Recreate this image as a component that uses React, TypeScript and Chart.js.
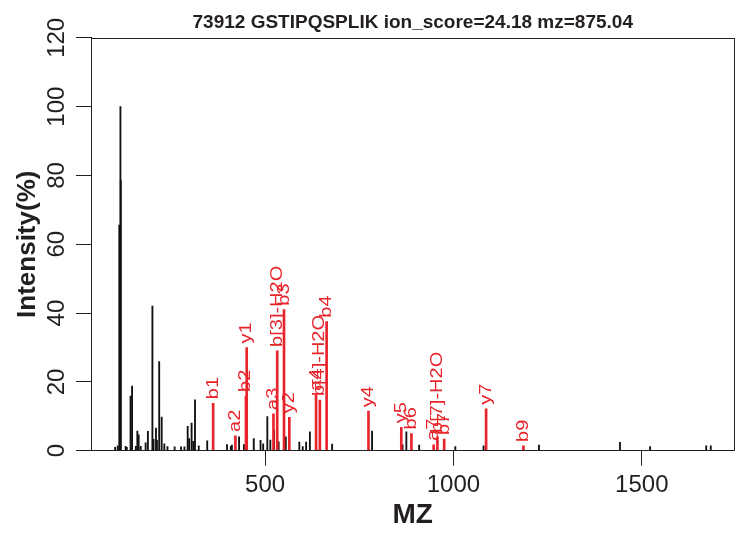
import React, { useEffect, useRef } from "react";
import { Chart, registerables } from "chart.js";

Chart.register(...registerables);

const titleText = "73912 GSTIPQSPLIK ion_score=24.18 mz=875.04";
const xTitle = "MZ";
const yTitle = "Intensity(%)";
const xTickValues = [500, 1000, 1500];
const yTickValues = [0, 20, 40, 60, 80, 100, 120];
const xRange = [38, 1746];
const yRange = [0, 120];

// unmatched peaks (black)
const peakMz = [
  102, 109, 113.1, 116.1, 117.1, 130, 133, 143, 147, 157, 161, 164.5, 170, 183, 189,
  201, 204, 210.5, 213, 219, 225.6, 232.6, 241, 260, 277, 286, 294.6, 298.5, 305,
  309.5, 314, 324, 346.5, 399, 409, 412, 431, 444, 470, 488, 495, 506, 514, 524, 536,
  555, 591, 600, 609, 619, 678, 784, 865, 875, 909, 1005, 1080, 1227, 1442, 1522,
  1671, 1683,
];
const peakIntensity = [
  1.0, 1.4, 65.6, 100, 78.6, 1.3, 1.0, 15.9, 18.8, 1.3, 5.7, 4.6, 1.3, 2.3, 5.6,
  42, 3.3, 6.6, 3.0, 25.9, 9.8, 2.0, 1.2, 1.1, 1.1, 1.1, 7.1, 3.5, 8.0,
  2.7, 14.8, 1.4, 2.9, 1.8, 1.3, 1.6, 4.0, 1.8, 3.5, 3.0, 2.0, 9.9, 3.1, 6.0, 2.6,
  4.0, 2.5, 1.2, 2.5, 5.5, 1.9, 5.7, 1.7, 5.5, 1.6, 1.2, 1.4, 1.6, 2.4, 1.2,
  1.4, 1.4,
];

// matched fragment ions (red, labelled)
const ionLabels = [
  "b1", "a2", "b2", "y1", "a3", "b[3]-H2O", "b3", "y2", "a4", "b[4]-H2O", "b4",
  "y4", "y5", "b6", "a7", "b[7]-H2O", "b7", "y7", "b9",
];
const ionMz = [
  362.2, 421.3, 449.3, 451.3, 522.3, 532.3, 550.3, 564.4, 635.4, 645.4, 663.4,
  774.5, 861.6, 888.5, 947.5, 957.5, 975.5, 1086.7, 1185.7,
];
const ionIntensity = [
  13.8, 4.3, 15.9, 30, 10.7, 29, 41, 9.7, 16.2, 14.7, 37.5,
  11.5, 6.8, 5.0, 1.7, 4.0, 3.4, 12.2, 1.4,
];

const FONT = "'Liberation Sans', Arial, Helvetica, sans-serif";
const INK = "#231f20";
const RED = "#e8242b";

const boxPlugin = {
  id: "rbox",
  afterDatasetsDraw(chart: any) {
    const { ctx, chartArea } = chart;
    ctx.save();
    ctx.strokeStyle = INK;
    ctx.lineWidth = 1;
    const l = Math.round(chartArea.left) + 0.5;
    const t = Math.round(chartArea.top) + 0.5;
    const r = Math.round(chartArea.right) - 0.5;
    const b = Math.round(chartArea.bottom) - 0.5;
    ctx.strokeRect(l, t, r - l, b - t);
    ctx.restore();
  },
};

const ionLabelPlugin = {
  id: "ionLabels",
  afterDatasetsDraw(chart: any) {
    const { ctx } = chart;
    const xs = chart.scales.x;
    const ys = chart.scales.y;
    ctx.save();
    ctx.fillStyle = RED;
    ctx.font = `20px ${FONT}`;
    ctx.textAlign = "left";
    ctx.textBaseline = "middle";
    ionLabels.forEach((lab, i) => {
      const x = xs.getPixelForValue(ionMz[i]);
      const y = ys.getPixelForValue(ionIntensity[i]);
      ctx.save();
      ctx.translate(x, y - 4);
      ctx.rotate(-Math.PI / 2);
      ctx.scale(1, 0.82);
      ctx.fillText(lab, 0, 0);
      ctx.restore();
    });
    ctx.restore();
  },
};

export default function App() {
  const ref = useRef<HTMLCanvasElement | null>(null);

  useEffect(() => {
    if (!ref.current) return;
    Chart.defaults.font.family = FONT;
    const chart = new Chart(ref.current, {
      type: "bar",
      data: {
        datasets: [
          {
            label: "peaks",
            data: peakMz.map((x, i) => ({ x, y: peakIntensity[i] })),
            backgroundColor: "#111111",
            borderWidth: 0,
            barThickness: 1.2,
            grouped: false,
            order: 2,
          } as any,
          {
            label: "matched",
            data: ionMz.map((x, i) => ({ x, y: ionIntensity[i] })),
            backgroundColor: RED,
            borderWidth: 0,
            barThickness: 2,
            grouped: false,
            order: 1,
          } as any,
        ],
      },
      options: {
        animation: false,
        responsive: false,
        devicePixelRatio: 1,
        events: [],
        layout: { padding: { left: 0, right: 6.5, top: 0, bottom: 0 } },
        plugins: {
          legend: { display: false },
          tooltip: { enabled: false },
          title: {
            display: true,
            text: titleText,
            fullSize: false,
            color: INK,
            font: { size: 19, weight: "bold", family: FONT },
            padding: { top: 11, bottom: 4 },
          },
        },
        scales: {
          x: {
            type: "linear",
            min: xRange[0],
            max: xRange[1],
            offset: false,
            afterBuildTicks: (s: any) => {
              s.ticks = xTickValues.map((v) => ({ value: v }));
            },
            afterFit: (s: any) => {
              s.height = 89.3;
            },
            grid: { offset: false, drawOnChartArea: false, drawTicks: true, tickLength: 15, color: INK, lineWidth: 1 },
            border: { display: true, color: INK, width: 1 },
            ticks: {
              autoSkip: false,
              maxRotation: 0,
              padding: 5,
              color: INK,
              font: { size: 24, family: FONT },
              callback: (v: any) => String(v),
            },
            title: {
              display: true,
              text: xTitle,
              color: INK,
              font: { size: 28, weight: "bold", family: FONT },
              padding: { top: 0, bottom: 8 },
            },
          },
          y: {
            type: "linear",
            min: yRange[0],
            max: yRange[1],
            afterBuildTicks: (s: any) => {
              s.ticks = yTickValues.map((v) => ({ value: v }));
            },
            afterFit: (s: any) => {
              s.width = 91;
            },
            grid: { offset: false, drawOnChartArea: false, drawTicks: true, tickLength: 15, color: INK, lineWidth: 1 },
            border: { display: true, color: INK, width: 1 },
            ticks: {
              autoSkip: false,
              minRotation: 90,
              maxRotation: 90,
              crossAlign: "center",
              padding: -1.5,
              color: INK,
              font: { size: 24, family: FONT },
              callback: (v: any) => String(v),
            },
            title: {
              display: true,
              text: yTitle,
              color: INK,
              font: { size: 26, weight: "bold", family: FONT },
              padding: { top: 12, bottom: 0 },
            },
          },
        },
      } as any,
      plugins: [boxPlugin, ionLabelPlugin],
    });
    return () => chart.destroy();
  }, []);

  return (
    <div style={{ position: "absolute", left: 0, top: 0, width: 741, height: 540, background: "#fff" }}>
      <canvas ref={ref} width={741} height={540} style={{ display: "block" }} />
    </div>
  );
}
